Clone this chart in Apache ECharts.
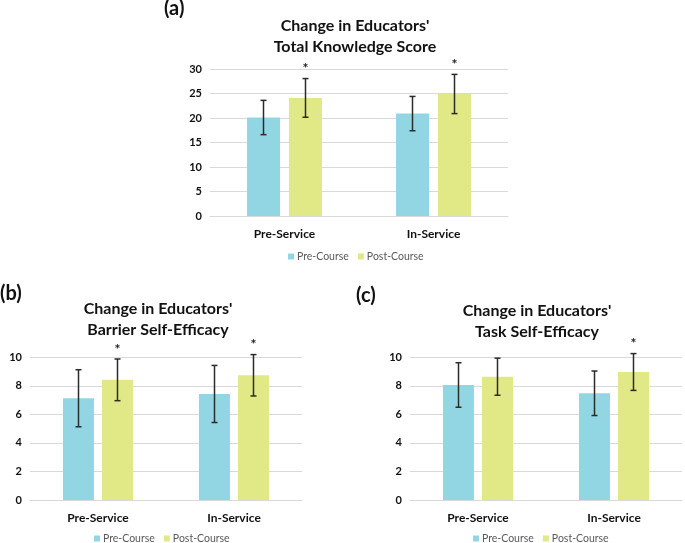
<!DOCTYPE html>
<html><head><meta charset="utf-8">
<script src="https://cdn.jsdelivr.net/npm/echarts@6/dist/echarts.min.js"></script>
<style>html,body{margin:0;padding:0;background:#fff}#c{width:685px;height:543px}</style>
</head><body><div id="c"></div>
<script>
const categories = ['Pre-Service', 'In-Service'];
const seriesNames = ['Pre-Course', 'Post-Course'];

const knowledgePre = [20.1, 20.9];
const knowledgePreSD = [3.5, 3.5];
const knowledgePost = [24.1, 24.9];
const knowledgePostSD = [3.95, 4.0];
const knowledgeSig = [true, true];

const barrierPre = [7.13, 7.43];
const barrierPreSD = [2.0, 2.0];
const barrierPost = [8.42, 8.74];
const barrierPostSD = [1.46, 1.45];
const barrierSig = [true, true];

const taskPre = [8.06, 7.48];
const taskPreSD = [1.56, 1.56];
const taskPost = [8.64, 8.97];
const taskPostSD = [1.3, 1.29];
const taskSig = [false, true];

const FONT = 'Lato';
const PRE_COLOR = '#92d6e4';
const POST_COLOR = '#e1e886';

function errRender(offset) {
  return function (params, api) {
    const i = api.value(0), m = api.value(1), s = api.value(2), star = api.value(3);
    const hi = api.coord([i, m + s]);
    const lo = api.coord([i, m - s]);
    const x = hi[0] + offset;
    const st = { stroke: '#2b2b2b', lineWidth: 1.5 };
    const ch = [
      { type: 'line', shape: { x1: x, y1: hi[1], x2: x, y2: lo[1] }, style: st },
      { type: 'line', shape: { x1: x - 3, y1: hi[1], x2: x + 3, y2: hi[1] }, style: st },
      { type: 'line', shape: { x1: x - 3, y1: lo[1], x2: x + 3, y2: lo[1] }, style: st }
    ];
    if (star) {
      ch.push({ type: 'text', style: { text: '*', x: x, y: hi[1] - 10, align: 'center', verticalAlign: 'middle', font: 'bold 14px ' + FONT, fill: '#222' } });
    }
    return { type: 'group', children: ch };
  };
}

const panels = [
  { pre: knowledgePre, preSD: knowledgePreSD, post: knowledgePost, postSD: knowledgePostSD, sig: knowledgeSig,
    grid: { left: 210, top: 69, width: 298, height: 147 }, max: 30, interval: 5, barWidth: 33, gap: 9 },
  { pre: barrierPre, preSD: barrierPreSD, post: barrierPost, postSD: barrierPostSD, sig: barrierSig,
    grid: { left: 30, top: 357.3, width: 272, height: 142.7 }, max: 10, interval: 2, barWidth: 31, gap: 8 },
  { pre: taskPre, preSD: taskPreSD, post: taskPost, postSD: taskPostSD, sig: taskSig,
    grid: { left: 410, top: 357.3, width: 272, height: 142.7 }, max: 10, interval: 2, barWidth: 31, gap: 8 }
];

const grids = [], xAxes = [], yAxes = [], series = [];
panels.forEach((p, k) => {
  grids.push(Object.assign({ containLabel: false }, p.grid));
  xAxes.push({
    type: 'category', gridIndex: k, data: categories,
    axisLine: { lineStyle: { color: '#d9d9d9', width: 1 } },
    axisTick: { show: false },
    axisLabel: { color: '#111', fontFamily: FONT, fontWeight: 'bold', fontSize: 12, margin: 12 }
  });
  yAxes.push({
    type: 'value', gridIndex: k, min: 0, max: p.max, interval: p.interval,
    axisLine: { show: false }, axisTick: { show: false },
    splitLine: { lineStyle: { color: '#d9d9d9', width: 1 } },
    axisLabel: { color: '#111', fontFamily: FONT, fontWeight: 'bold', fontSize: 11, margin: 8 }
  });
  const gapPct = Math.round(p.gap / p.barWidth * 100) + '%';
  series.push({ name: seriesNames[0], type: 'bar', xAxisIndex: k, yAxisIndex: k, data: p.pre,
    barWidth: p.barWidth, barGap: gapPct, itemStyle: { color: PRE_COLOR }, silent: true });
  series.push({ name: seriesNames[1], type: 'bar', xAxisIndex: k, yAxisIndex: k, data: p.post,
    barWidth: p.barWidth, barGap: gapPct, itemStyle: { color: POST_COLOR }, silent: true });
  const off = (p.barWidth + p.gap) / 2;
  series.push({ name: 'errPre' + k, type: 'custom', xAxisIndex: k, yAxisIndex: k,
    renderItem: errRender(-off), z: 10, silent: true,
    encode: { x: 0, y: 1 },
    data: categories.map((c, i) => [i, p.pre[i], p.preSD[i], 0]) });
  series.push({ name: 'errPost' + k, type: 'custom', xAxisIndex: k, yAxisIndex: k,
    renderItem: errRender(off), z: 10, silent: true,
    encode: { x: 0, y: 1 },
    data: categories.map((c, i) => [i, p.post[i], p.postSD[i], p.sig[i] ? 1 : 0]) });
});

const legendBase = {
  data: seriesNames, icon: 'rect', itemWidth: 6, itemHeight: 6, itemGap: 9, padding: 0,
  textStyle: { color: '#595959', fontFamily: FONT, fontSize: 10.5, padding: [0, 0, 0, -2] }, selectedMode: false
};
const legends = [
  Object.assign({}, legendBase, { left: 288, top: 251 }),
  Object.assign({}, legendBase, { left: 94, top: 533 }),
  Object.assign({}, legendBase, { left: 473, top: 533 })
];

function txt(text, x, y, size, align) {
  return { type: 'text', x: x, y: y, silent: true,
    style: { text: text, font: 'bold ' + size + 'px ' + FONT, fill: '#111', align: align || 'center', verticalAlign: 'middle', lineHeight: 21 } };
}

const graphics = [
  txt('(a)', 164, 9, 20, 'left'),
  txt('(b)', 0, 294, 20, 'left'),
  txt('(c)', 356, 296, 20, 'left'),
  txt("Change in Educators'\nTotal Knowledge Score", 355, 36, 16),
  txt("Change in Educators'\nBarrier Self-Efficacy", 158, 319, 16),
  txt("Change in Educators'\nTask Self-Efficacy", 537, 321, 16)
];

const chart = echarts.init(document.getElementById('c'), null, { renderer: 'canvas' });
chart.setOption({
  backgroundColor: '#fff',
  animation: false,
  grid: grids, xAxis: xAxes, yAxis: yAxes, series: series,
  legend: legends, graphic: graphics
});
</script></body></html>
